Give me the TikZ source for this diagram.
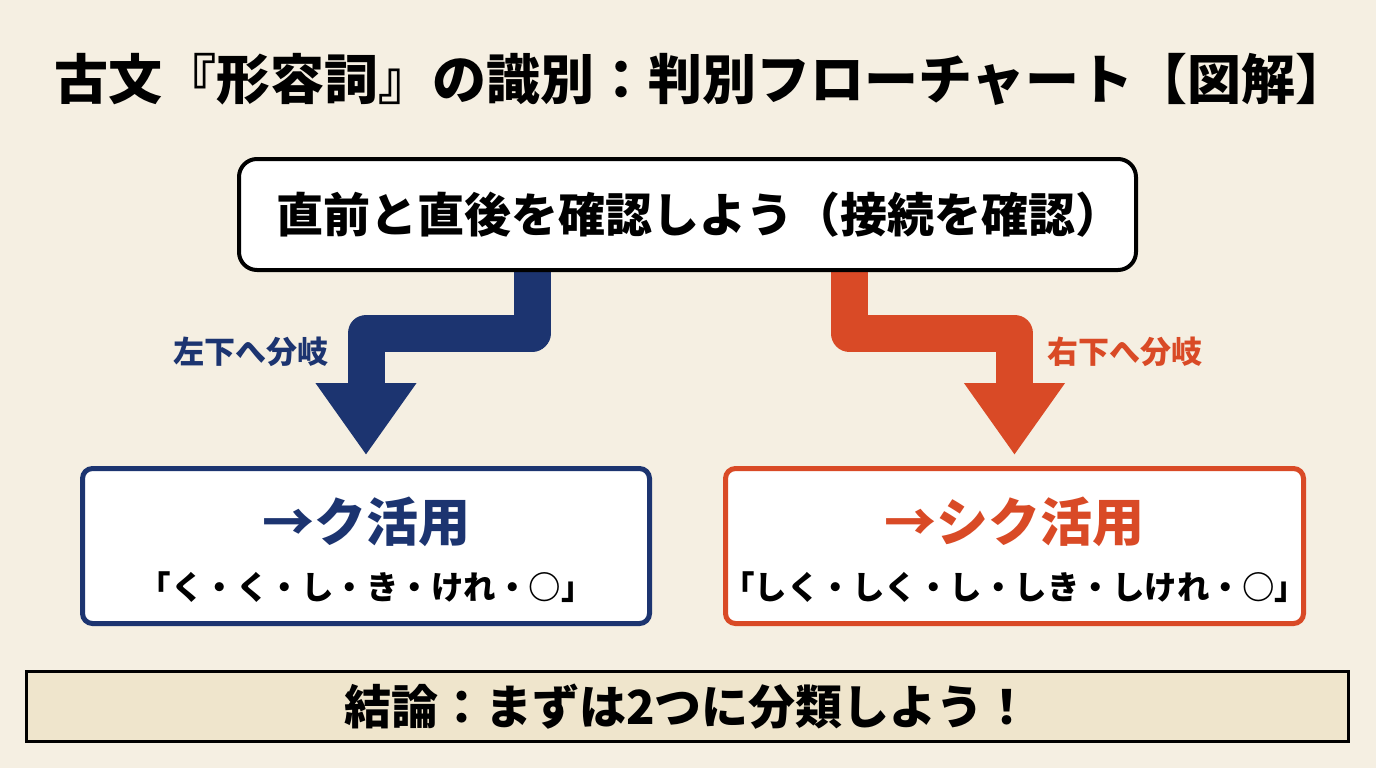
\documentclass[tikz,border=0pt]{standalone}
\usepackage{fontspec}
\setmainfont{Noto Sans CJK JP}
\usetikzlibrary{arrows.meta}
\definecolor{paper}{HTML}{F5EFE2}
\definecolor{kblue}{HTML}{1C3470}
\definecolor{korange}{HTML}{D94A26}
\definecolor{concl}{HTML}{EFE5CC}
\pgfdeclarelayer{paperlayer}
\pgfdeclarelayer{arrowlayer}
\pgfsetlayers{paperlayer,arrowlayer,main}
\tikzset{
  titletext/.style={font=\fontsize{54}{62}\selectfont\bfseries, text=black, inner sep=0},
  topbox/.style={draw=black, line width=4pt, fill=white, rounded corners=18pt,
    minimum width=897pt, minimum height=111pt, inner sep=0},
  toplabel/.style={font=\fontsize{47}{54}\selectfont\bfseries, text=black, inner sep=0},
  resbox/.style={draw=#1, line width=5pt, fill=white, rounded corners=10pt,
    minimum width=567pt, minimum height=155pt, inner sep=0},
  mainlabel/.style={font=\fontsize{52}{60}\selectfont\bfseries, text=#1, inner sep=0},
  sublabel/.style={font=\fontsize{32.5}{38}\selectfont\bfseries, text=black, inner sep=0},
  branchlabel/.style={font=\fontsize{31}{36}\selectfont\bfseries, text=#1, inner sep=0},
  bigarrow/.style={draw=#1, line width=37pt, line join=round,
    -{Triangle[length=72pt,width=96pt]}},
  conclbox/.style={draw=black, line width=3pt, fill=concl,
    minimum width=1322pt, minimum height=70pt, inner sep=0,
    font=\fontsize{47}{52}\selectfont\bfseries}
}
\begin{document}
\begin{tikzpicture}[x=1pt,y=-1pt]
\begin{pgfonlayer}{paperlayer}
\fill[paper] (0,0) rectangle (1376,768);
\end{pgfonlayer}
\useasboundingbox (0,0) rectangle (1376,768);

\node[titletext] (title) at (702,79) {古文『形容詞』の識別：判別フローチャート【図解】};

\node[topbox] (top) at (687.5,214.5) {};
\node[toplabel] (toptext) at (699,215) {直前と直後を確認しよう（接続を確認）};

\node[resbox=kblue] (kbox) at (366,546) {};
\node[mainlabel=kblue] (kmain) at (366,522) {→ク活用};
\node[sublabel] (ksub) at (366,587) {「く・く・し・き・けれ・○」};

\node[resbox=korange, minimum width=578pt] (sbox) at (1014.5,546) {};
\node[mainlabel=korange] (smain) at (1014.5,522) {→シク活用};
\node[sublabel] (ssub) at (1014.5,587) {「しく・しく・し・しき・しけれ・○」};

\coordinate (lbend) at (450,333);
\coordinate (rbend) at (930,333);
\begin{pgfonlayer}{arrowlayer}
\draw[bigarrow=kblue] ([xshift=-155.5pt]top.south) |- (lbend) -| ([yshift=11pt]kbox.north);
\draw[bigarrow=korange] ([xshift=161.5pt]top.south) |- (rbend) -| ([yshift=11pt]sbox.north);
\end{pgfonlayer}

\node[branchlabel=kblue] (lleft) at (251,352) {左下へ分岐};
\node[branchlabel=korange] (lright) at (1125,352) {右下へ分岐};

\node[conclbox] (concl) at (687.5,706.5) {結論：まずは2つに分類しよう！};
\end{tikzpicture}
\end{document}
